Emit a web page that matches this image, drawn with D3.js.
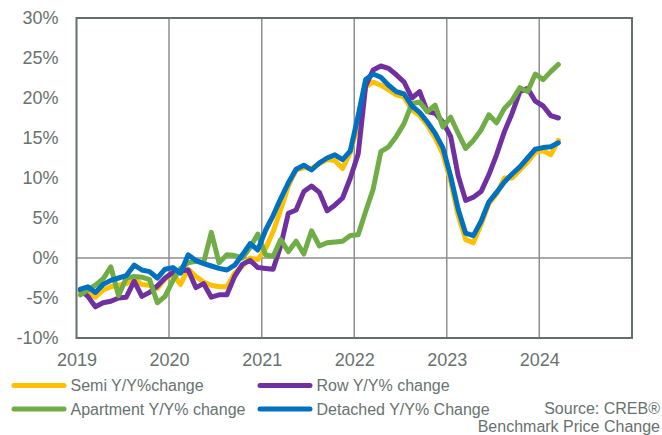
<!DOCTYPE html>
<html>
<head>
<meta charset="utf-8">
<script src="https://cdn.jsdelivr.net/npm/d3@7"></script>
<style>
  html, body { margin: 0; padding: 0; background: #fff; }
  svg { display: block; font-family: "Liberation Sans", Arial, sans-serif; }
</style>
</head>
<body>
<svg id="chart" width="662" height="435"></svg>
<script>
// Monthly benchmark price change, year over year (%), Jan 2019 – Mar 2024
const startMonth = new Date(2019, 0, 1);
const endMonth = new Date(2024, 3, 1);
const months = d3.timeMonth.range(startMonth, endMonth);

const semi = [
  -4.2, -4.2, -4.9, -4.0, -3.6, -3.4, -3.2, -2.6, -3.3, -3.4, -3.8, -2.6,
  -2.0, -3.3, -1.4, -2.3, -3.0, -3.4, -3.6, -3.6, -1.9, -1.0, 0.0, -0.2,
  1.2, 3.3, 6.0, 9.0, 11.0, 11.3, 11.2, 11.8, 12.3, 12.2, 11.2, 13.2,
  16.8, 21.4, 22.0, 21.6, 21.0, 20.4, 20.1, 18.5, 17.8, 16.6, 15.0, 13.0,
  9.6, 5.3, 2.3, 1.9, 4.2, 6.8, 8.0, 10.0, 10.0, 11.0, 12.0, 13.2,
  13.4, 12.9, 14.7
];
const row = [
  -4.0, -4.8, -6.1, -5.6, -5.4, -5.0, -4.9, -2.9, -4.8, -4.3, -3.5, -2.5,
  -1.8, -1.6, -1.5, -3.7, -3.2, -4.9, -4.6, -4.6, -2.3, -0.8, -0.3, -1.2,
  -1.3, -1.4, 1.5, 5.6, 6.0, 8.3, 9.0, 8.2, 5.9, 6.6, 7.5, 10.0,
  13.0, 21.5, 23.5, 24.0, 23.7, 22.9, 22.0, 20.0, 20.8, 18.3, 18.1, 17.0,
  15.2, 10.3, 7.2, 7.6, 8.3, 10.4, 12.9, 15.8, 18.1, 20.8, 21.2, 19.6,
  19.0, 17.8, 17.5
];
const apartment = [
  -4.6, -4.0, -3.4, -2.6, -1.1, -4.7, -2.5, -2.3, -2.4, -2.7, -5.6, -4.8,
  -2.8, -1.3, -0.6, -0.4, -0.6, 3.2, -0.6, 0.4, 0.3, 0.0, 1.3, 3.0,
  0.4, 0.2, 2.3, 0.8, 2.1, 0.5, 3.4, 1.5, 1.9, 2.0, 2.1, 2.8,
  2.9, 5.8, 8.6, 13.3, 13.9, 15.2, 16.8, 19.3, 19.5, 18.3, 19.1, 16.4,
  17.6, 15.6, 13.7, 14.7, 16.0, 17.9, 16.9, 18.7, 19.7, 21.3, 20.8, 23.0,
  22.3, 23.3, 24.2
];
const detached = [
  -3.9, -3.6, -4.3, -3.3, -2.8, -2.5, -2.2, -0.9, -1.5, -1.7, -2.5, -1.4,
  -1.2, -1.9, 0.4, -0.3, -0.7, -1.0, -1.3, -1.5, -0.9, 0.4, 1.8, 1.0,
  3.5, 5.3, 7.4, 9.4, 11.1, 11.6, 11.0, 11.9, 12.5, 12.9, 12.3, 13.4,
  17.8, 22.3, 23.0, 22.6, 21.6, 20.8, 20.5, 19.0, 18.2, 17.0, 15.6, 13.8,
  10.2, 6.1, 3.1, 2.8, 4.6, 7.0, 8.2, 9.5, 10.5, 11.4, 12.5, 13.6,
  13.8, 13.9, 14.4
];

const yTicks = [-10, -5, 0, 5, 10, 15, 20, 25, 30];
const yearTicks = [2019, 2020, 2021, 2022, 2023, 2024];

const seriesNames = ["Semi Y/Y%change", "Row Y/Y% change", "Apartment Y/Y% change", "Detached Y/Y% Change"];
const seriesColors = ["#FFC000", "#7030A0", "#70AD47", "#0070C0"];
const seriesValues = [semi, row, apartment, detached];
const sourceLines = ["Source: CREB®", "Benchmark Price Change"];

const svg = d3.select("#chart");
const plot = { left: 76.5, right: 632, top: 18, bottom: 338 };

const x = d3.scaleTime()
  .domain([new Date(2019, 0, 1), new Date(2025, 0, 1)])
  .range([plot.left, plot.right]);
const y = d3.scaleLinear()
  .domain([-10, 30])
  .range([plot.bottom, plot.top]);

// each monthly value sits in the middle of its month
const midMonth = d => new Date((d.getTime() + d3.timeMonth.offset(d, 1).getTime()) / 2);

const textColor = "#68726f";
const frameColor = "#646e6b";
const gridColor = "#8e8e8e";

// vertical year gridlines
svg.append("g")
  .selectAll("line")
  .data(yearTicks.slice(1))
  .join("line")
  .attr("x1", d => x(new Date(d, 0, 1)))
  .attr("x2", d => x(new Date(d, 0, 1)))
  .attr("y1", plot.top)
  .attr("y2", plot.bottom)
  .attr("stroke", gridColor)
  .attr("stroke-width", 1.5);

// zero line
svg.append("line")
  .attr("x1", plot.left).attr("x2", plot.right)
  .attr("y1", y(0)).attr("y2", y(0))
  .attr("stroke", gridColor)
  .attr("stroke-width", 1.5);

// plot frame
svg.append("rect")
  .attr("x", plot.left).attr("y", plot.top)
  .attr("width", plot.right - plot.left)
  .attr("height", plot.bottom - plot.top)
  .attr("fill", "none")
  .attr("stroke", frameColor)
  .attr("stroke-width", 2);

// y axis labels
const yAxis = d3.axisLeft(y)
  .tickValues(yTicks)
  .tickFormat(d => d + "%")
  .tickSize(0)
  .tickPadding(18);
const yg = svg.append("g")
  .attr("transform", `translate(${plot.left},0)`)
  .call(yAxis);
yg.select(".domain").remove();
yg.selectAll("text")
  .attr("fill", textColor)
  .style("font-size", "18px")
  .style("font-family", "'Liberation Sans', Arial, sans-serif");

// x axis labels
const xAxis = d3.axisBottom(x)
  .tickValues(yearTicks.map(t => new Date(t, 0, 1)))
  .tickFormat(d3.timeFormat("%Y"))
  .tickSize(0)
  .tickPadding(15);
const xg = svg.append("g")
  .attr("transform", `translate(0,${plot.bottom})`)
  .call(xAxis);
xg.select(".domain").remove();
xg.selectAll("text")
  .attr("fill", textColor)
  .style("font-size", "18px")
  .style("font-family", "'Liberation Sans', Arial, sans-serif");

// series lines
const line = d3.line()
  .x((d, i) => x(midMonth(months[i])))
  .y(d => y(d));

svg.append("g")
  .selectAll("path")
  .data(seriesValues)
  .join("path")
  .attr("d", d => line(d))
  .attr("fill", "none")
  .attr("stroke", (d, i) => seriesColors[i])
  .attr("stroke-width", 5)
  .attr("stroke-linejoin", "round")
  .attr("stroke-linecap", "round");

// legend
const legendPos = [
  { x: 12, y: 385.5 },
  { x: 258, y: 385.5 },
  { x: 12, y: 409 },
  { x: 258, y: 409 }
];
const legend = svg.append("g")
  .selectAll("g")
  .data(seriesNames)
  .join("g")
  .attr("transform", (d, i) => `translate(${legendPos[i].x},${legendPos[i].y})`);
legend.append("line")
  .attr("x1", 2).attr("x2", 52)
  .attr("y1", 0).attr("y2", 0)
  .attr("stroke", (d, i) => seriesColors[i])
  .attr("stroke-width", 5)
  .attr("stroke-linecap", "round");
legend.append("text")
  .attr("x", 58.5)
  .attr("y", 0)
  .attr("dy", "0.35em")
  .attr("fill", textColor)
  .style("font-size", "16px")
  .text(d => d);

// source note
svg.append("g")
  .selectAll("text")
  .data(sourceLines)
  .join("text")
  .attr("x", 660)
  .attr("y", (d, i) => 408.5 + i * 18)
  .attr("dy", "0.35em")
  .attr("text-anchor", "end")
  .attr("fill", textColor)
  .style("font-size", "16px")
  .text(d => d);
</script>
</body>
</html>
